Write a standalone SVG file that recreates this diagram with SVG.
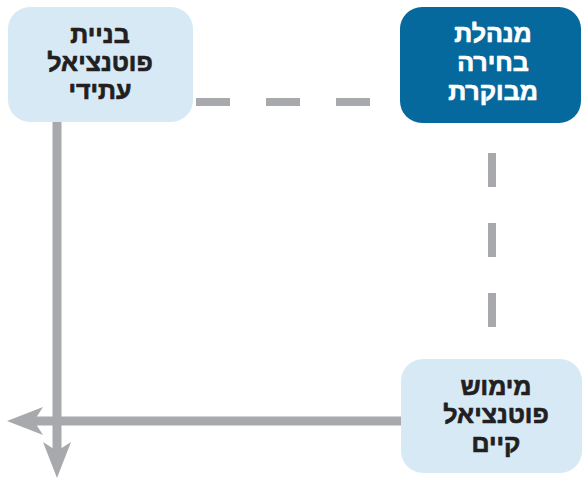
<svg xmlns="http://www.w3.org/2000/svg" width="582" height="479" viewBox="0 0 582 479">
  <style>
    .light { fill: #d7e9f4; }
    .dark { fill: #05699e; }
    .label { font-family: "Liberation Sans", "DejaVu Sans", sans-serif; font-size: 25px; font-weight: bold; text-anchor: middle; direction: rtl; stroke-width: 0.7; stroke-linejoin: round; }
    .label-dark { fill: #231f20; stroke: #231f20; }
    .label-light { fill: #ffffff; stroke: #ffffff; }
    .dash { stroke: #a7a9ac; stroke-width: 8; stroke-dasharray: 34 36; fill: none; }
    .solid { stroke: #a7a9ac; stroke-width: 9; fill: none; }
  </style>
  <defs>
    <marker id="arrow" viewBox="0 0 36 28" refX="21" refY="14" markerWidth="36" markerHeight="28" markerUnits="userSpaceOnUse" orient="auto">
      <path d="M36,14 L0,0 L9,14 L0,28 Z" fill="#a7a9ac"/>
    </marker>
  </defs>

  <g id="connectors">
    <line class="dash" x1="196" y1="102" x2="400" y2="102"/>
    <line class="dash" x1="492" y1="153" x2="492" y2="359"/>
    <line class="solid" x1="57" y1="122" x2="57" y2="463" marker-end="url(#arrow)"/>
    <line class="solid" x1="401" y1="421" x2="22" y2="421" marker-end="url(#arrow)"/>
  </g>

  <g id="node-future">
    <rect class="light" x="8" y="7" width="185" height="115" rx="22"/>
    <text class="label label-dark" x="100" y="43">בניית</text>
    <text class="label label-dark" x="100" y="71">פוטנציאל</text>
    <text class="label label-dark" x="100" y="99">עתידי</text>
  </g>

  <g id="node-managed">
    <rect class="dark" x="400" y="7" width="181" height="116" rx="22"/>
    <text class="label label-light" x="493" y="42">מנהלת</text>
    <text class="label label-light" x="493" y="71">בחירה</text>
    <text class="label label-light" x="493" y="100">מבוקרת</text>
  </g>

  <g id="node-existing">
    <rect class="light" x="401" y="359" width="181" height="114" rx="22"/>
    <text class="label label-dark" x="496" y="395">מימוש</text>
    <text class="label label-dark" x="496" y="423">פוטנציאל</text>
    <text class="label label-dark" x="496" y="452">קיים</text>
  </g>
</svg>
